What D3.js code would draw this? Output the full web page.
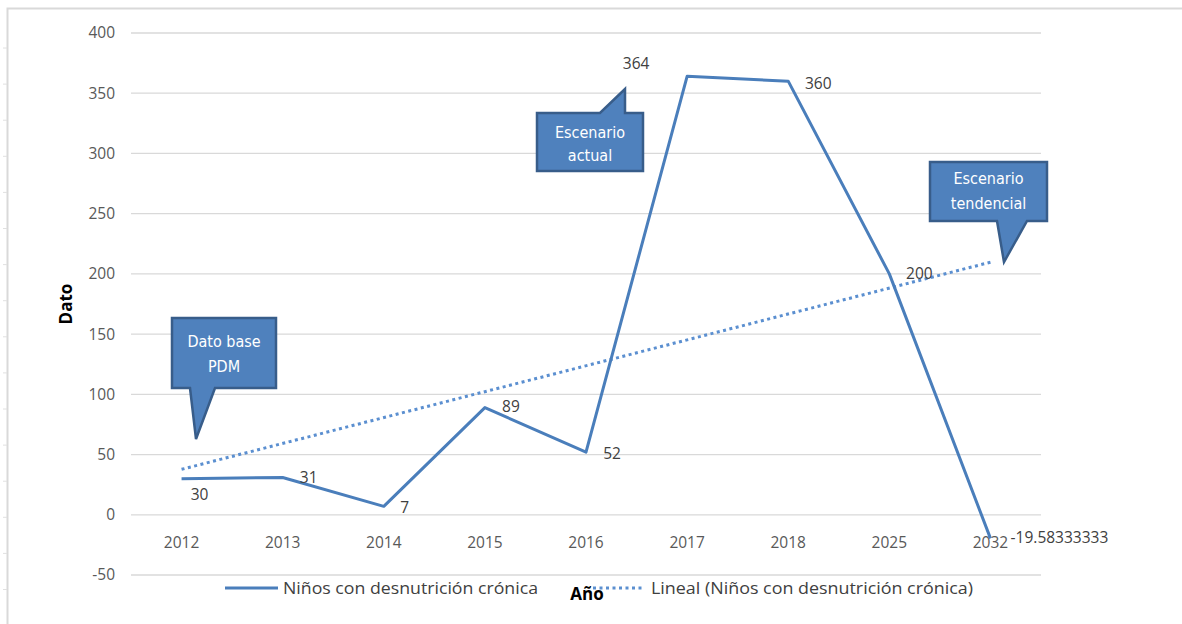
<!DOCTYPE html>
<html>
<head>
<meta charset="utf-8">
<script src="https://cdn.jsdelivr.net/npm/d3@7"></script>
<style>
  body { margin: 0; background: #fff; }
  text { font-family: "Open Sans", "Liberation Sans", sans-serif; }
</style>
</head>
<body>
<div id="chart"></div>
<script>
// data
const years = ["2012", "2013", "2014", "2015", "2016", "2017", "2018", "2025", "2032"];
const ninos = [30, 31, 7, 89, 52, 364, 360, 200, -19.58333333];
const valueLabels = ["30", "31", "7", "89", "52", "364", "360", "200", "-19.58333333"];
const yTicks = [-50, 0, 50, 100, 150, 200, 250, 300, 350, 400];

// label offsets from the point (style, not data)
const labelOffsets = [[18, 16], [26, 0], [21, 1], [26, -1], [26, 1], [-51, -13], [30, 2], [30, 0], [69, -1]];

const W = 1182, H = 624;
const plotL = 131, plotR = 1041, plotT = 33, plotB = 575;
const blue = "#4a7ebb";

const svg = d3.select("#chart").append("svg")
  .attr("width", W).attr("height", H);

// outer frame
svg.append("path")
  .attr("d", `M7.5,${H} V8.5 H${W}`)
  .attr("fill", "none").attr("stroke", "#d9d9d9").attr("stroke-width", 2);
// little ruler ticks on the frame
for (let k = 0; k < 16; k++) {
  const yy = 48 + 36.1 * k;
  svg.append("line").attr("x1", 3).attr("x2", 7).attr("y1", yy).attr("y2", yy)
    .attr("stroke", "#e0e0e0");
}

const x = d3.scaleBand().domain(years).range([plotL, plotR]);
const y = d3.scaleLinear().domain([-50, 400]).range([plotB, plotT]);
const cx = d => x(d) + x.bandwidth() / 2;

// gridlines
svg.append("g").selectAll("line").data(yTicks).join("line")
  .attr("x1", plotL).attr("x2", plotR)
  .attr("y1", d => y(d)).attr("y2", d => y(d))
  .attr("stroke", "#d9d9d9").attr("stroke-width", 1.3);

// y tick labels
svg.append("g").selectAll("text").data(yTicks).join("text")
  .attr("x", 115).attr("y", d => y(d)).attr("dy", "0.35em")
  .attr("text-anchor", "end").attr("font-size", 15.5).attr("fill", "#595959")
  .text(d => d);

// x tick labels
svg.append("g").selectAll("text").data(years).join("text")
  .attr("x", d => cx(d)).attr("y", 543).attr("dy", "0.35em")
  .attr("text-anchor", "middle").attr("font-size", 15.5).attr("fill", "#595959")
  .text(d => d);

// axis titles
svg.append("text")
  .attr("transform", "translate(66,304) rotate(-90)")
  .attr("text-anchor", "middle").attr("dy", "0.35em")
  .attr("font-size", 17).attr("font-weight", "bold").attr("fill", "#000")
  .text("Dato");
svg.append("text")
  .attr("x", 587).attr("y", 594).attr("dy", "0.35em")
  .attr("text-anchor", "middle")
  .attr("font-size", 17).attr("font-weight", "bold").attr("fill", "#000")
  .text("Año");

// linear trendline (least squares over category index, like Excel)
const n = ninos.length;
const idx = d3.range(1, n + 1);
const mx = d3.mean(idx), my = d3.mean(ninos);
const slope = d3.sum(idx, (i, k) => (i - mx) * (ninos[k] - my)) / d3.sum(idx, i => (i - mx) * (i - mx));
const icpt = my - slope * mx;
svg.append("line")
  .attr("x1", cx(years[0])).attr("y1", y(icpt + slope * 1))
  .attr("x2", cx(years[n - 1])).attr("y2", y(icpt + slope * n))
  .attr("stroke", "#5b8fd0").attr("stroke-width", 3)
  .attr("stroke-dasharray", "3,3.5");

// main series
const line = d3.line().x((d, i) => cx(years[i])).y(d => y(d));
svg.append("path").datum(ninos)
  .attr("d", line)
  .attr("fill", "none").attr("stroke", blue).attr("stroke-width", 3)
  .attr("stroke-linejoin", "round");

// data labels
svg.append("g").selectAll("text").data(ninos).join("text")
  .attr("x", (d, i) => cx(years[i]) + labelOffsets[i][0])
  .attr("y", (d, i) => y(d) + labelOffsets[i][1])
  .attr("dy", "0.35em").attr("text-anchor", "middle")
  .attr("font-size", 15.5).attr("fill", "#404040")
  .text((d, i) => valueLabels[i]);

// callouts
function callout(x0, y0, x1, y1, b0, b1, tx, ty, lines, ly) {
  let d;
  if (ty > y1) {
    d = `M${x0},${y0} H${x1} V${y1} H${b1} L${tx},${ty} L${b0},${y1} H${x0} Z`;
  } else {
    d = `M${x0},${y0} H${b0} L${tx},${ty} L${b1},${y0} H${x1} V${y1} H${x0} Z`;
  }
  svg.append("path").attr("d", d)
    .attr("fill", "#4f81bd").attr("stroke", "#385d8a").attr("stroke-width", 2.5)
    .attr("stroke-linejoin", "miter");
  lines.forEach((t, i) => {
    svg.append("text")
      .attr("x", (x0 + x1) / 2).attr("y", ly[i]).attr("dy", "0.35em")
      .attr("text-anchor", "middle").attr("fill", "#fff")
      .attr("font-size", 16)
      .style("font-family", "'Liberation Sans Narrow', 'DejaVu Sans Condensed', sans-serif")
      .text(t);
  });
}
callout(172, 318, 276, 388, 190, 215, 196, 439, ["Dato base", "PDM"], [341, 366]);
callout(537, 113, 643, 171, 600, 625, 625, 89, ["Escenario", "actual"], [132, 155]);
callout(930, 162, 1047, 221, 997, 1027, 1004, 262, ["Escenario", "tendencial"], [178, 203]);

// legend
svg.append("line").attr("x1", 225).attr("x2", 278).attr("y1", 588).attr("y2", 588)
  .attr("stroke", blue).attr("stroke-width", 3);
svg.append("text").attr("x", 283).attr("y", 588).attr("dy", "0.35em")
  .attr("font-size", 16.5).attr("fill", "#404040")
  .attr("textLength", 255).attr("lengthAdjust", "spacingAndGlyphs")
  .text("Niños con desnutrición crónica");
svg.append("line").attr("x1", 593).attr("x2", 643).attr("y1", 588).attr("y2", 588)
  .attr("stroke", "#5b8fd0").attr("stroke-width", 3).attr("stroke-dasharray", "3,3.5");
svg.append("text").attr("x", 651).attr("y", 588).attr("dy", "0.35em")
  .attr("font-size", 16.5).attr("fill", "#404040")
  .attr("textLength", 322).attr("lengthAdjust", "spacingAndGlyphs")
  .text("Lineal (Niños con desnutrición crónica)");
</script>
</body>
</html>
